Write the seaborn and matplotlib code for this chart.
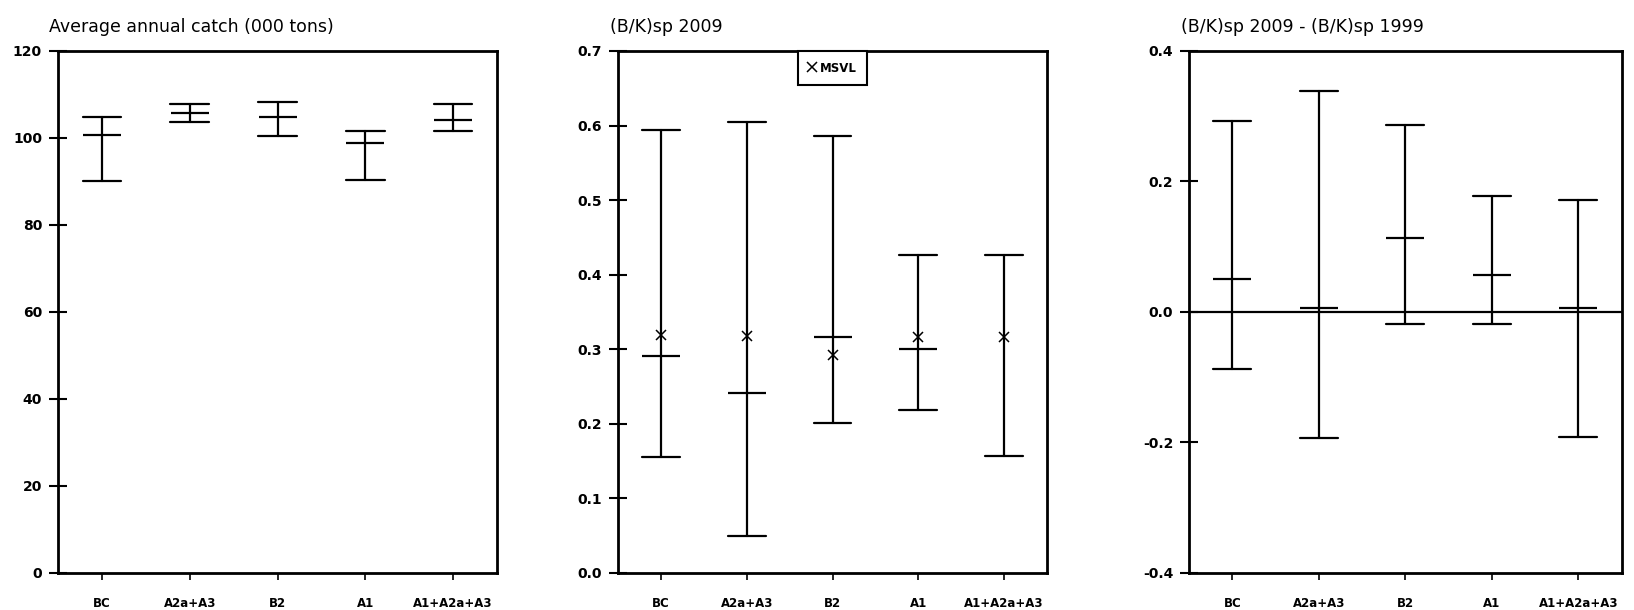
import numpy as np
import pandas as pd
import seaborn as sns
import matplotlib.pyplot as plt

# scenarios on the x axis
cats = ['BC', 'A2a+A3', 'B2', 'A1', 'A1+A2a+A3']

# average annual catch (000 tons): lower, middle, upper
catch_lo = [90.0, 103.7, 100.5, 90.3, 101.7]
catch_mid = [100.7, 105.8, 104.8, 98.8, 104.1]
catch_hi = [104.8, 107.8, 108.3, 101.6, 107.8]

# (B/K)sp 2009
bk_lo = [0.156, 0.050, 0.201, 0.219, 0.157]
bk_mid = [0.291, 0.241, 0.317, 0.301, np.nan]
bk_hi = [0.594, 0.605, 0.586, 0.426, 0.426]
msvl = [0.319, 0.318, 0.292, 0.316, 0.317]

# (B/K)sp 2009 - (B/K)sp 1999
diff_lo = [-0.088, -0.193, -0.018, -0.018, -0.191]
diff_mid = [0.051, 0.006, 0.114, 0.057, 0.006]
diff_hi = [0.292, 0.339, 0.286, 0.177, 0.171]

sns.set_style('ticks')
plt.rcParams['font.family'] = ['DejaVu Sans']
plt.rcParams['text.color'] = 'black'
plt.rcParams['xtick.color'] = 'black'
plt.rcParams['ytick.color'] = 'black'
plt.rcParams['axes.labelcolor'] = 'black'

fig = plt.figure(figsize=(16.34, 6.10), dpi=100)
ax1 = fig.add_axes([0.0355, 0.0607, 0.2687, 0.8557])
ax2 = fig.add_axes([0.3784, 0.0607, 0.2622, 0.8557])
ax3 = fig.add_axes([0.7278, 0.0607, 0.2646, 0.8557])

LW = 1.6


def draw_panel(ax, lo, mid, hi, yticks, ylabels, title):
    # whiskers: min to max of lo/hi
    rng = pd.DataFrame({'scenario': cats * 2, 'value': lo + hi})
    sns.pointplot(data=rng, x='scenario', y='value', order=cats, ax=ax,
                  estimator='median', errorbar=('pi', 100), capsize=0.44,
                  linestyle='none', markersize=0, color='black',
                  err_kws={'linewidth': LW})
    # middle tick
    mids = pd.DataFrame({'scenario': cats, 'value': mid}).dropna()
    sns.pointplot(data=mids, x='scenario', y='value', order=cats, ax=ax,
                  errorbar=None, linestyle='none', marker='_',
                  markersize=27.5, markeredgewidth=LW, color='black')
    ax.set_xlim(-0.5, 4.5)
    ax.set_ylim(yticks[0], yticks[-1])
    ax.set_yticks(yticks)
    ax.set_yticklabels(ylabels, fontsize=10, fontweight='bold')
    ax.set_xticks(range(len(cats)))
    ax.set_xticklabels(cats, fontsize=8.5, fontweight='bold')
    ax.set_xlabel('')
    ax.set_ylabel('')
    ax.set_title(title, loc='left', fontsize=12.5, pad=14, x=-0.02,
                 color='black')
    for s in ax.spines.values():
        s.set_visible(True)
        s.set_linewidth(2)
        s.set_color('black')
    ax.tick_params(axis='y', direction='inout', length=13, width=1.5, pad=5)
    ax.tick_params(axis='x', direction='out', length=5, width=1.2, pad=12)


draw_panel(ax1, catch_lo, catch_mid, catch_hi,
           [0, 20, 40, 60, 80, 100, 120],
           ['0', '20', '40', '60', '80', '100', '120'],
           'Average annual catch (000 tons)')

draw_panel(ax2, bk_lo, bk_mid, bk_hi,
           [0.0, 0.1, 0.2, 0.3, 0.4, 0.5, 0.6, 0.7],
           ['0.0', '0.1', '0.2', '0.3', '0.4', '0.5', '0.6', '0.7'],
           '(B/K)sp 2009')
sns.pointplot(x=cats, y=msvl, order=cats, ax=ax2, errorbar=None,
              linestyle='none', marker='x', markersize=7,
              markeredgewidth=1.1, color='black', label='MSVL')
ax2.set_xlim(-0.5, 4.5)
h, l = ax2.get_legend_handles_labels()
leg = ax2.legend(h, l, loc='upper center', borderaxespad=0, fancybox=False,
                 framealpha=1, edgecolor='black', handlelength=0.6,
                 handletextpad=0.4, borderpad=0.9,
                 prop={'size': 8.5, 'weight': 'bold'})
leg.get_frame().set_linewidth(1.5)

draw_panel(ax3, diff_lo, diff_mid, diff_hi,
           [-0.4, -0.2, 0.0, 0.2, 0.4],
           ['-0.4', '-0.2', '0.0', '0.2', '0.4'],
           '(B/K)sp 2009 - (B/K)sp 1999')
ax3.axhline(0, color='black', linewidth=LW, zorder=0)

fig.savefig('out.png', dpi=100)
